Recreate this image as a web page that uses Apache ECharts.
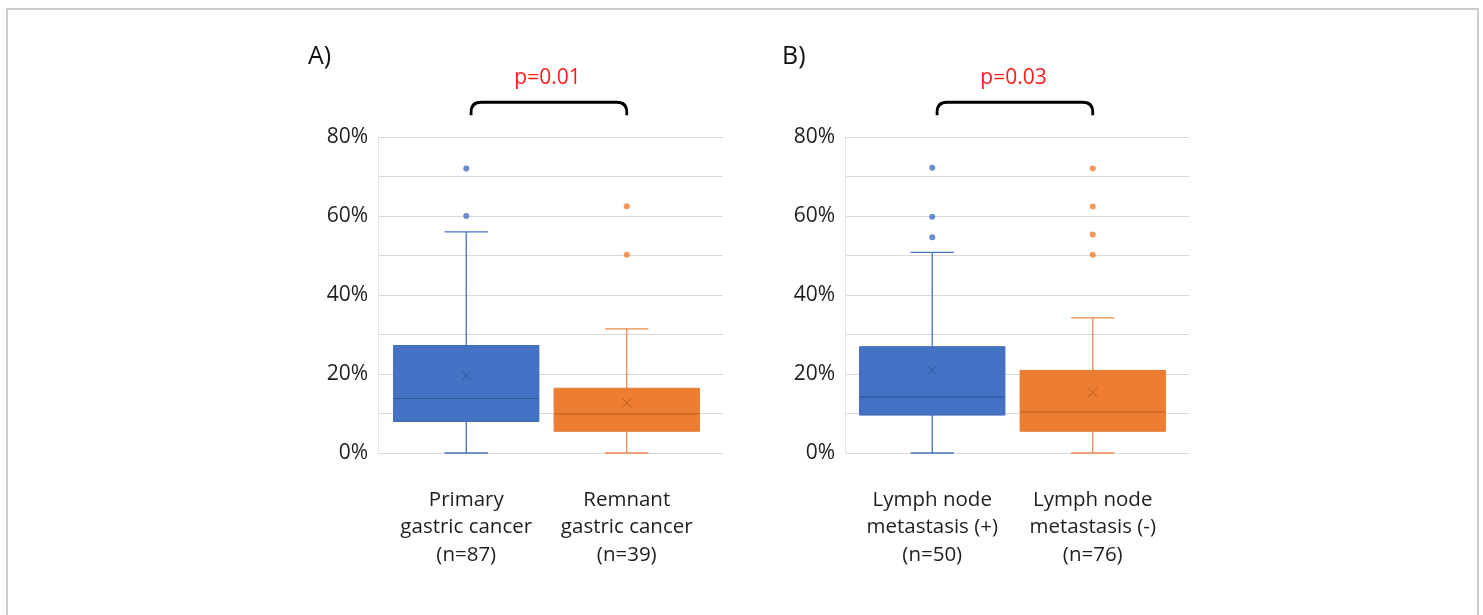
<!DOCTYPE html>
<html>
<head>
<meta charset="utf-8">
<script src="https://cdn.jsdelivr.net/npm/echarts@6/dist/echarts.min.js"></script>
<style>
html,body{margin:0;padding:0;background:#fff;}
#chart{width:1483px;height:615px;}
</style>
</head>
<body>
<div id="chart"></div>
<script>
// ---------- data ----------
const categoriesA = ['Primary\ngastric cancer\n(n=87)', 'Remnant\ngastric cancer\n(n=39)'];
const categoriesB = ['Lymph node\nmetastasis (+)\n(n=50)', 'Lymph node\nmetastasis (-)\n(n=76)'];
// [lower whisker, Q1, median, Q3, upper whisker] in %
const boxA = [[0, 8.0, 13.8, 27.2, 56.0], [0, 5.5, 9.9, 16.4, 31.4]];
const meanA = [19.6, 12.7];
const outliersA = [[60.0, 72.0], [50.2, 62.5]];
const boxB = [[0, 9.6, 14.2, 26.9, 50.8], [0, 5.5, 10.4, 20.9, 34.2]];
const meanB = [20.9, 15.3];
const outliersB = [[54.6, 59.8, 72.2], [50.2, 55.3, 62.4, 72.0]];
const pValues = ['p=0.01', 'p=0.03'];
const panelLabels = ['A)', 'B)'];
const yMin = 0, yMax = 80, yInterval = 20;

// ---------- styles ----------
const FONT = 'Open Sans';
const TEXT = '#1E1E1E';
const fill = ['#4472C4', '#ED7D31'];
const edge = ['#3C66B3', '#E47A33'];
const whiskerColor = ['#4472C4', '#EE8A4C'];
const medianColor = ['#2F5597', '#C5621E'];
const meanColor = ['#2F5597', '#B85A1E'];
const BRACKET_TOP = 88.8, BRACKET_END = 85.5, PTEXT_Y = 95.0;

function boxData(box, mean) {
  return box.map((b, i) => [i, b[0], b[1], b[2], b[3], b[4], mean[i]]);
}
function outlierData(out) {
  const r = [];
  out.forEach((arr, i) => arr.forEach(v => r.push([i, v, i])));
  return r;
}

function renderBox(params, api) {
  const cat = api.value(0);
  const lo = api.coord([cat, api.value(1)]);
  const q1 = api.coord([cat, api.value(2)]);
  const md = api.coord([cat, api.value(3)]);
  const q3 = api.coord([cat, api.value(4)]);
  const hi = api.coord([cat, api.value(5)]);
  const mn = api.coord([cat, api.value(6)]);
  const band = api.size([1, 0])[0];
  const bw = band * 0.905, cw = band * 0.27;
  const x = lo[0];
  const lineS = (c, w) => ({ stroke: c, lineWidth: w });
  const ms = 4.5;
  return {
    type: 'group',
    children: [
      { type: 'line', shape: { x1: x, y1: q3[1], x2: x, y2: hi[1] }, style: lineS(whiskerColor[cat], 1.3) },
      { type: 'line', shape: { x1: x - cw / 2, y1: hi[1], x2: x + cw / 2, y2: hi[1] }, style: lineS(whiskerColor[cat], 1.3) },
      { type: 'line', shape: { x1: x, y1: q1[1], x2: x, y2: lo[1] }, style: lineS(whiskerColor[cat], 1.3) },
      { type: 'line', shape: { x1: x - cw / 2, y1: lo[1], x2: x + cw / 2, y2: lo[1] }, style: lineS(whiskerColor[cat], 1.3) },
      { type: 'rect', shape: { x: x - bw / 2, y: q3[1], width: bw, height: q1[1] - q3[1] }, style: { fill: fill[cat], stroke: edge[cat], lineWidth: 1 } },
      { type: 'line', shape: { x1: x - bw / 2, y1: md[1], x2: x + bw / 2, y2: md[1] }, style: lineS(medianColor[cat], 1.2) },
      { type: 'line', shape: { x1: x - ms, y1: mn[1] - ms, x2: x + ms, y2: mn[1] + ms }, style: lineS(meanColor[cat], 1) },
      { type: 'line', shape: { x1: x - ms, y1: mn[1] + ms, x2: x + ms, y2: mn[1] - ms }, style: lineS(meanColor[cat], 1) }
    ]
  };
}

function renderBracket(params, api) {
  const a = api.coord([0, BRACKET_TOP]);
  const b = api.coord([1, BRACKET_TOP]);
  const e = api.coord([0, BRACKET_END]);
  const t = api.coord([0, PTEXT_Y]);
  const band = api.size([1, 0])[0];
  const x0 = a[0] + band * 0.03, x1 = b[0];
  const y0 = a[1], y1 = e[1], r = 10;
  const path = `M${x0},${y1} L${x0},${y0 + r} Q${x0},${y0} ${x0 + r},${y0} L${x1 - r},${y0} Q${x1},${y0} ${x1},${y0 + r} L${x1},${y1}`;
  return {
    type: 'group',
    children: [
      { type: 'path', shape: { pathData: path }, style: { fill: 'none', stroke: '#000', lineWidth: 2.8 } },
      { type: 'text', x: (a[0] + b[0]) / 2 + 1, y: t[1], style: { text: pValues[params.context.panel], fill: '#FF1A1A', font: `21px "${FONT}"`, align: 'center', verticalAlign: 'middle' } }
    ]
  };
}

const bg = [
  { left: 378, width: 345, top: 137, height: 316 },
  { left: 845, width: 344, top: 137, height: 316 }
];
const boxGrid = [
  { left: 386, width: 321, top: 137, height: 316 },
  { left: 852, width: 321, top: 137, height: 316 }
];
const cats = [categoriesA, categoriesB];
const boxes = [boxData(boxA, meanA), boxData(boxB, meanB)];
const outs = [outlierData(outliersA), outlierData(outliersB)];

const grid = [], xAxis = [], yAxis = [], series = [], title = [];
[0, 1].forEach(p => {
  grid.push(bg[p], boxGrid[p]);
  // background grid (gridlines + y labels)
  xAxis.push({ type: 'value', gridIndex: 2 * p, show: false, min: 0, max: 1 });
  yAxis.push({
    type: 'value', gridIndex: 2 * p, min: yMin, max: yMax, interval: yInterval,
    axisLine: { show: true, lineStyle: { color: '#E3E3E3', width: 1 } },
    axisTick: { show: false },
    splitLine: { show: true, lineStyle: { color: '#D9D9D9', width: 1 } },
    minorTick: { show: false, splitNumber: 2 },
    minorSplitLine: { show: true, lineStyle: { color: '#D9D9D9', width: 1 } },
    axisLabel: { formatter: '{value}%', fontFamily: FONT, fontSize: 21, color: TEXT, margin: 10 }
  });
  // box grid
  xAxis.push({
    type: 'category', gridIndex: 2 * p + 1, data: cats[p],
    axisLine: { show: false }, axisTick: { show: false }, splitLine: { show: false },
    axisLabel: { interval: 0, fontFamily: FONT, fontSize: 20.5, color: TEXT, lineHeight: 27.5, margin: 33 }
  });
  yAxis.push({ type: 'value', gridIndex: 2 * p + 1, min: yMin, max: yMax, show: false, splitLine: { show: false } });
  series.push({
    type: 'custom', xAxisIndex: 2 * p + 1, yAxisIndex: 2 * p + 1, clip: false,
    renderItem: renderBox, data: boxes[p], encode: { x: 0, y: [1, 2, 3, 4, 5, 6] }, z: 2
  });
  series.push({
    type: 'scatter', xAxisIndex: 2 * p + 1, yAxisIndex: 2 * p + 1, symbolSize: 6, z: 3,
    data: outs[p],
    itemStyle: { color: (prm) => fill[prm.data[2]] }
  });
  series.push({
    type: 'custom', xAxisIndex: 2 * p + 1, yAxisIndex: 2 * p + 1, clip: false, z: 4,
    renderItem: (params, api) => { params.context.panel = p; return renderBracket(params, api); },
    data: [[0, BRACKET_TOP]]
  });
  title.push({
    text: panelLabels[p], left: p === 0 ? 303 : 777, top: 39,
    textStyle: { fontFamily: FONT, fontSize: 25, fontWeight: 'normal', color: '#111' }
  });
});

const chart = echarts.init(document.getElementById('chart'), null, { renderer: 'canvas' });
chart.setOption({
  backgroundColor: '#fff',
  animation: false,
  title, grid, xAxis, yAxis, series,
  graphic: [{
    type: 'rect', shape: { x: 7, y: 9, width: 1471, height: 700 }, silent: true,
    style: { fill: 'none', stroke: '#CCCCCC', lineWidth: 2 }
  }]
});
</script>
</body>
</html>
